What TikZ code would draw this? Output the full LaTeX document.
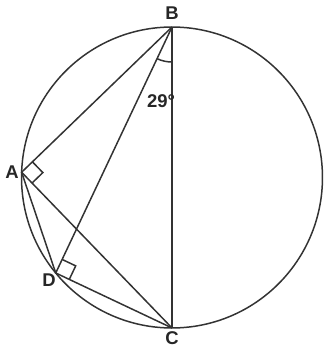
\documentclass[tikz,border=0pt]{standalone}
\usepackage{fontspec}
\setmainfont{Liberation Sans}
\usetikzlibrary{calc, angles}
\tikzset{
  edge/.style={draw=black!80, line width=0.85pt},
  lbl/.style={font=\bfseries\fontsize{10.5}{12}\selectfont, text=black!85, inner sep=0pt},
}

\begin{document}
\begin{tikzpicture}[x=0.02cm, y=0.02cm]
    \useasboundingbox (0,0) rectangle (326,348);
    \coordinate (O) at (172,170.5);
    \coordinate (B) at ($(O)+(90:3.01cm)$);
    \coordinate (C) at ($(O)+(270:3.01cm)$);
    \coordinate (A) at ($(O)+(178:3.01cm)$);
    \coordinate (D) at ($(O)+(219.4:3.01cm)$);
    \draw[edge] (O) circle[radius=3.01cm];
    \draw[edge] (B) -- (C);
    \draw[edge] (B) -- (A) -- (C);
    \draw[edge] (B) -- (D) -- (C);
    \draw[edge] (A) -- (D);
    % right angles at A and D
    \coordinate (a1) at ($(A)!0.3cm!(B)$);
    \coordinate (a2) at ($(A)!0.3cm!(C)$);
    \draw[edge] (a1) -- ($(a1)+(a2)-(A)$) -- (a2);
    \coordinate (d1) at ($(D)!0.3cm!(B)$);
    \coordinate (d2) at ($(D)!0.3cm!(C)$);
    \draw[edge] (d1) -- ($(d1)+(d2)-(D)$) -- (d2);
    \pic[edge, angle radius=0.7cm] {angle=D--B--C};
    \node[lbl] (ang) at (161,246.5) {29°};
    \node[lbl] (lB) at (172,335) {B};
    \node[lbl] (lC) at (172,9.5) {C};
    \node[lbl] (lA) at (12,176) {A};
    \node[lbl] (lD) at (49,68) {D};
\end{tikzpicture}
\end{document}
